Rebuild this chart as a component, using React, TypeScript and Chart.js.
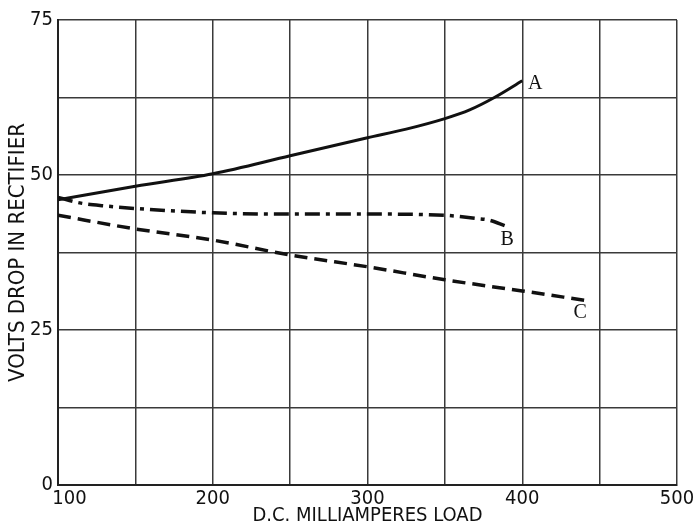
import React, { useEffect, useRef } from "react";
import { Chart, registerables } from "chart.js";

Chart.register(...registerables);

const seriesNames = ["A", "B", "C"];

const aX = [100, 150, 200, 250, 300, 325, 350, 366, 382, 400];
const aY = [46.0, 48.2, 50.2, 53.1, 56.0, 57.4, 59.1, 60.5, 62.5, 65.2];

const bX = [100, 114, 131, 150, 200, 250, 300, 350, 370, 379, 389];
const bY = [46.4, 45.5, 45.0, 44.6, 43.9, 43.7, 43.7, 43.5, 43.0, 42.7, 41.8];

const cX = [100, 150, 200, 250, 300, 350, 400, 440];
const cY = [43.5, 41.3, 39.5, 37.1, 35.2, 33.1, 31.3, 29.8];

const xTickLabels = [100, 200, 300, 400, 500];
const yTickLabels = [0, 25, 50, 75];

const xTitle = "D.C. MILLIAMPERES LOAD";
const yTitle = "VOLTS DROP IN RECTIFIER";

const SANS = "'Liberation Sans Narrow', 'DejaVu Sans Condensed', 'Liberation Sans', sans-serif";
const SERIF = "'Liberation Serif', 'DejaVu Serif', serif";

const toPts = (xs: number[], ys: number[]) => xs.map((x, i) => ({ x, y: ys[i] }));

export default function App() {
  const ref = useRef<HTMLCanvasElement | null>(null);

  useEffect(() => {
    document.body.style.margin = "0";
    const canvas = ref.current;
    if (!canvas) return;

    const labelOffsets: Record<string, [number, number]> = {
      A: [13, 3],
      B: [2, 14],
      C: [-4, 13],
    };

    const endLabels = {
      id: "endLabels",
      afterDatasetsDraw(chart: any) {
        const ctx = chart.ctx;
        const xs = chart.scales.x;
        const ys = chart.scales.y;
        ctx.save();
        ctx.fillStyle = "#111";
        ctx.font = `20px ${SERIF}`;
        ctx.textAlign = "center";
        ctx.textBaseline = "middle";
        chart.data.datasets.forEach((ds: any, i: number) => {
          const last = ds.data[ds.data.length - 1];
          const name = seriesNames[i];
          const off = labelOffsets[name];
          ctx.fillText(name, xs.getPixelForValue(last.x) + off[0], ys.getPixelForValue(last.y) + off[1]);
        });
        ctx.restore();
      },
    };

    const chart = new Chart(canvas, {
      type: "line",
      data: {
        datasets: [
          {
            label: seriesNames[0],
            data: toPts(aX, aY),
            borderColor: "#111",
            borderWidth: 3,
            pointRadius: 0,
            cubicInterpolationMode: "monotone",
            fill: false,
          },
          {
            label: seriesNames[1],
            data: toPts(bX, bY),
            borderColor: "#111",
            borderWidth: 3.5,
            borderDash: [15, 6, 4, 6],
            pointRadius: 0,
            cubicInterpolationMode: "monotone",
            fill: false,
          },
          {
            label: seriesNames[2],
            data: toPts(cX, cY),
            borderColor: "#111",
            borderWidth: 3.5,
            borderDash: [13, 7],
            pointRadius: 0,
            cubicInterpolationMode: "monotone",
            fill: false,
          },
        ],
      },
      options: {
        animation: false,
        responsive: false,
        maintainAspectRatio: false,
        layout: { padding: { left: 0, top: 20, right: 17, bottom: 0 } },
        plugins: {
          legend: { display: false },
          tooltip: { enabled: false },
        },
        scales: {
          x: {
            type: "linear",
            min: 100,
            max: 500,
            afterFit: (s: any) => {
              s.height = 41;
              s.paddingLeft = 0;
              s.paddingRight = 0;
            },
            border: { display: true, color: "#222", width: 2 },
            grid: { color: "#3a3a3a", lineWidth: 1.5, drawTicks: false },
            ticks: {
              stepSize: 50,
              autoSkip: false,
              maxRotation: 0,
              padding: 4,
              color: "#111",
              font: { family: SANS, size: 20, lineHeight: 1 },
              callback: (v: any) => {
                const n = Number(v);
                if (!xTickLabels.includes(n)) return "";
                return n === 100 ? "\u2007\u2007" + String(n) : String(n);
              },
            },
            title: {
              display: true,
              text: xTitle,
              color: "#111",
              font: { family: SANS, size: 20, lineHeight: 1 },
              padding: { top: 0, bottom: 0 },
            },
          },
          y: {
            type: "linear",
            min: 0,
            max: 75,
            afterFit: (s: any) => {
              s.width = 58;
            },
            border: { display: true, color: "#222", width: 2 },
            grid: { color: "#3a3a3a", lineWidth: 1.5, drawTicks: false },
            ticks: {
              stepSize: 12.5,
              autoSkip: false,
              padding: 5,
              color: "#111",
              font: { family: SANS, size: 20, lineHeight: 1 },
              callback: (v: any) => {
                const n = Number(v);
                return yTickLabels.includes(n) ? String(n) : "";
              },
            },
            title: {
              display: true,
              text: yTitle,
              color: "#111",
              font: { family: SANS, size: 22, lineHeight: 1 },
              padding: { top: 7, bottom: 0 },
            },
          },
        },
      },
      plugins: [endLabels],
    } as any);

    return () => chart.destroy();
  }, []);

  return (
    <div style={{ width: 694, height: 526, background: "#fff" }}>
      <canvas ref={ref} width={694} height={526} style={{ display: "block" }} />
    </div>
  );
}
